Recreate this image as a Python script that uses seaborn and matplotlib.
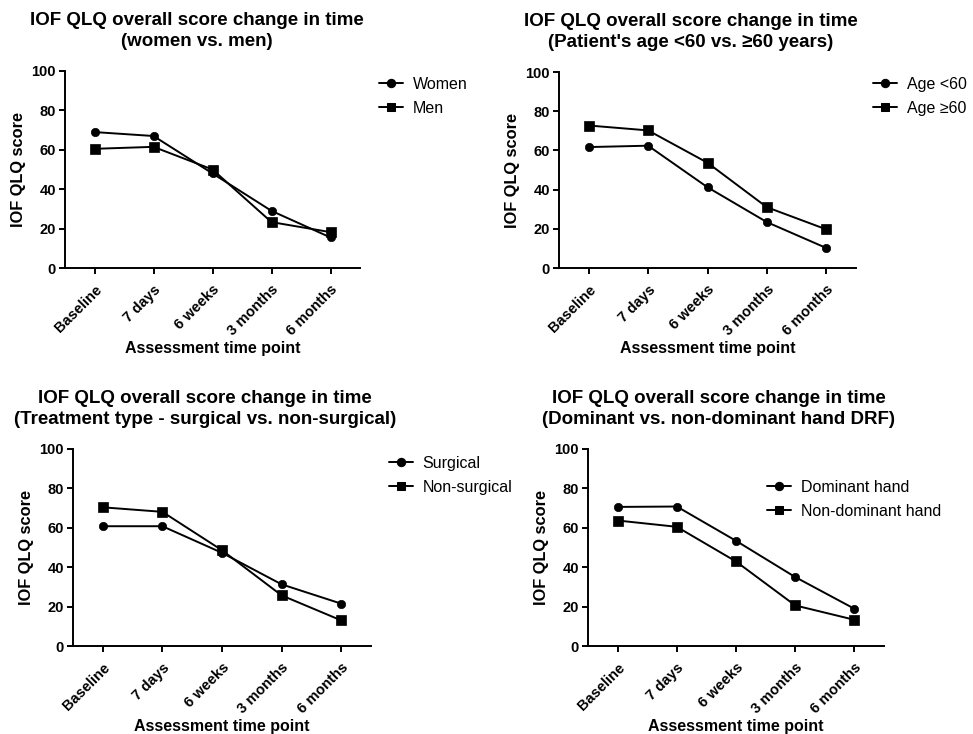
import seaborn as sns
import matplotlib.pyplot as plt
import pandas as pd

time_points = ["Baseline", "7 days", "6 weeks", "3 months", "6 months"]

women = [69.0, 67.0, 48.0, 29.0, 15.5]
men = [60.5, 61.5, 50.0, 23.3, 18.2]

age_under_60 = [61.7, 62.4, 41.2, 23.4, 10.2]
age_60_plus = [72.7, 70.2, 53.7, 31.0, 19.7]

surgical = [60.8, 60.8, 47.3, 31.3, 21.5]
non_surgical = [70.4, 68.1, 48.6, 25.7, 13.0]

dominant = [70.6, 70.8, 53.4, 35.0, 18.9]
non_dominant = [63.7, 60.5, 42.9, 20.6, 13.3]

titles = [
    "IOF QLQ overall score change in time\n(women vs. men)",
    "IOF QLQ overall score change in time\n(Patient's age <60 vs. \u226560 years)",
    "IOF QLQ overall score change in time\n(Treatment type - surgical vs. non-surgical)",
    "IOF QLQ overall score change in time\n(Dominant vs. non-dominant hand DRF)",
]
panels = [
    (("Women", women), ("Men", men)),
    (("Age <60", age_under_60), ("Age \u226560", age_60_plus)),
    (("Surgical", surgical), ("Non-surgical", non_surgical)),
    (("Dominant hand", dominant), ("Non-dominant hand", non_dominant)),
]

W, H = 973, 734
# axes boxes in pixels: left, right, top, bottom
boxes = [(65, 360, 71, 268), (559, 856, 72, 268),
         (73, 371, 449, 646), (588, 884, 449, 646)]
title_x = [197, 691, 205, 719]
# legend top-left corner in pixels
legend_px = [(379, 77), (873, 77), (389, 456), (767, 480)]


def main():
    sns.set_style("ticks")
    plt.rcParams["font.family"] = ["Liberation Sans", "DejaVu Sans"]
    plt.rcParams["text.color"] = "black"
    plt.rcParams["axes.labelcolor"] = "black"
    plt.rcParams["xtick.color"] = "black"
    plt.rcParams["ytick.color"] = "black"
    fig = plt.figure(figsize=(W / 100, H / 100), dpi=100)

    for i, (box, pair) in enumerate(zip(boxes, panels)):
        l, r, t, b = box
        ax = fig.add_axes([l / W, 1 - b / H, (r - l) / W, (b - t) / H])
        rows = []
        for name, vals in pair:
            for tp, v in zip(time_points, vals):
                rows.append({"time": tp, "score": v, "group": name})
        df = pd.DataFrame(rows)
        names = [p[0] for p in pair]
        sns.lineplot(
            data=df, x="time", y="score", style="group", style_order=names,
            markers={names[0]: "o", names[1]: "s"}, dashes=False,
            color="black", linewidth=1.4, ax=ax,
        )
        for ln, ms in zip(ax.lines, (6, 7.5)):
            ln.set_markersize(ms)
            ln.set_markeredgecolor("black")
            ln.set_markeredgewidth(0.5)
        ax.set_xlim(-0.5, 4.5)
        ax.set_ylim(0, 100)
        ax.set_yticks([0, 20, 40, 60, 80, 100])
        sns.despine(ax=ax)
        for sp in ("left", "bottom"):
            ax.spines[sp].set_linewidth(1.4)
            ax.spines[sp].set_color("black")
        ax.tick_params(width=1.4, length=4.5, labelsize=10.5, pad=2)
        ax.tick_params(axis="x", pad=6)
        for lab in ax.get_yticklabels():
            lab.set_fontweight("bold")
        ax.set_xticks(range(len(time_points)))
        ax.set_xticklabels(time_points, rotation=45, ha="right",
                           rotation_mode="anchor", fontweight="bold")
        ax.set_xlabel("Assessment time point", fontsize=11.5,
                      fontweight="bold", labelpad=2)
        ax.set_ylabel("IOF QLQ score", fontsize=11.8, fontweight="bold",
                      labelpad=4)
        fig.text(title_x[i] / W, 1 - (t - 40) / H, titles[i],
                 ha="center", va="center", fontsize=13.5, fontweight="bold",
                 linespacing=1.25)
        lx, ly = legend_px[i]
        leg = fig.legend(*ax.get_legend_handles_labels(), loc="upper left",
                         bbox_to_anchor=(lx / W, 1 - ly / H),
                         frameon=False, fontsize=11.5, handlelength=1.5,
                         handletextpad=0.6, labelspacing=0.55,
                         borderaxespad=0, borderpad=0)
        ax.get_legend().remove()
        for h in leg.legend_handles:
            h.set_color("black")
            h.set_markeredgecolor("black")

    fig.savefig("out.png", dpi=100)


if __name__ == "__main__":
    main()
